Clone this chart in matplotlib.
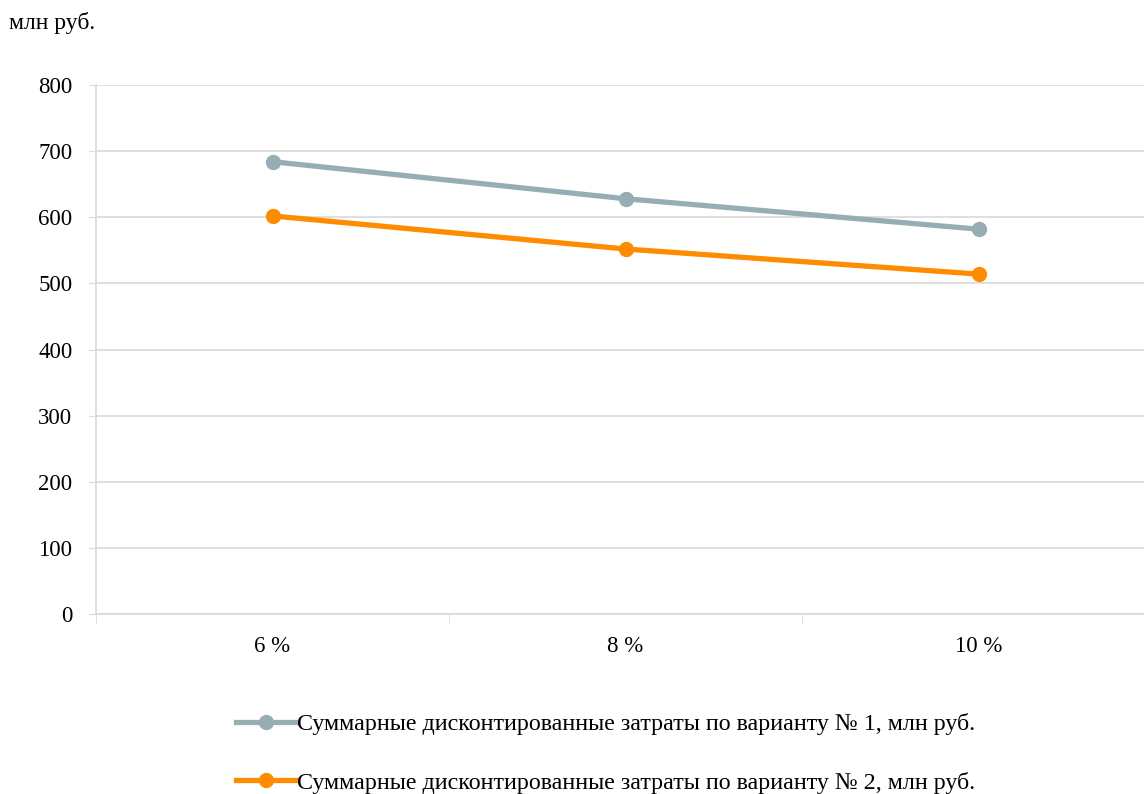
import matplotlib.pyplot as plt
import numpy as np

plt.rcParams['font.family'] = ['Liberation Serif', 'DejaVu Serif']

rates = ['6 %', '8 %', '10 %']
variant1 = [684, 628, 582]
variant2 = [602, 552, 514]
label1 = 'Суммарные дисконтированные затраты по варианту № 1, млн руб.'
label2 = 'Суммарные дисконтированные затраты по варианту № 2, млн руб.'

fig = plt.figure(figsize=(11.44, 7.94), dpi=100)
ax = fig.add_axes([96 / 1144, 1 - 614 / 794, 1059 / 1144, 529 / 794])

x = np.arange(len(rates))
ax.plot(x, variant1, color='#97adb4', lw=3.8, marker='o', ms=10, label=label1, zorder=3)
ax.plot(x, variant2, color='#ff8c00', lw=3.8, marker='o', ms=10, label=label2, zorder=3)

ax.set_xlim(-0.5, len(rates) - 0.5)
ax.set_ylim(0, 800)
ax.set_yticks(range(0, 801, 100))
ax.set_xticks(x)
ax.set_xticklabels(rates)
ax.set_xticks(np.arange(-0.5, len(rates)), minor=True)

ax.grid(axis='y', color='#d9d9d9', lw=1.2)
ax.set_axisbelow(True)
for s in ['top', 'right']:
    ax.spines[s].set_visible(False)
ax.spines['left'].set_color('#d9d9d9')
ax.spines['bottom'].set_color('#d9d9d9')
ax.spines['left'].set_linewidth(1.2)
ax.spines['bottom'].set_linewidth(1.2)

ax.tick_params(axis='y', labelsize=16.5, length=5, color='#d9d9d9', pad=12)
ax.tick_params(axis='x', which='major', labelsize=16.5, length=0, pad=16)
ax.tick_params(axis='x', which='minor', length=7, color='#d9d9d9')

fig.text(9 / 1144, 1 - 23 / 794, 'млн руб.', fontsize=17, va='center')

fig.legend(loc='upper left', bbox_to_anchor=(236 / 1144, 1 - 713 / 794),
           frameon=False, fontsize=17.3, handlelength=2.5, handletextpad=0.05,
           labelspacing=1.53, borderaxespad=0, borderpad=0)

fig.savefig('out.png', dpi=100)
